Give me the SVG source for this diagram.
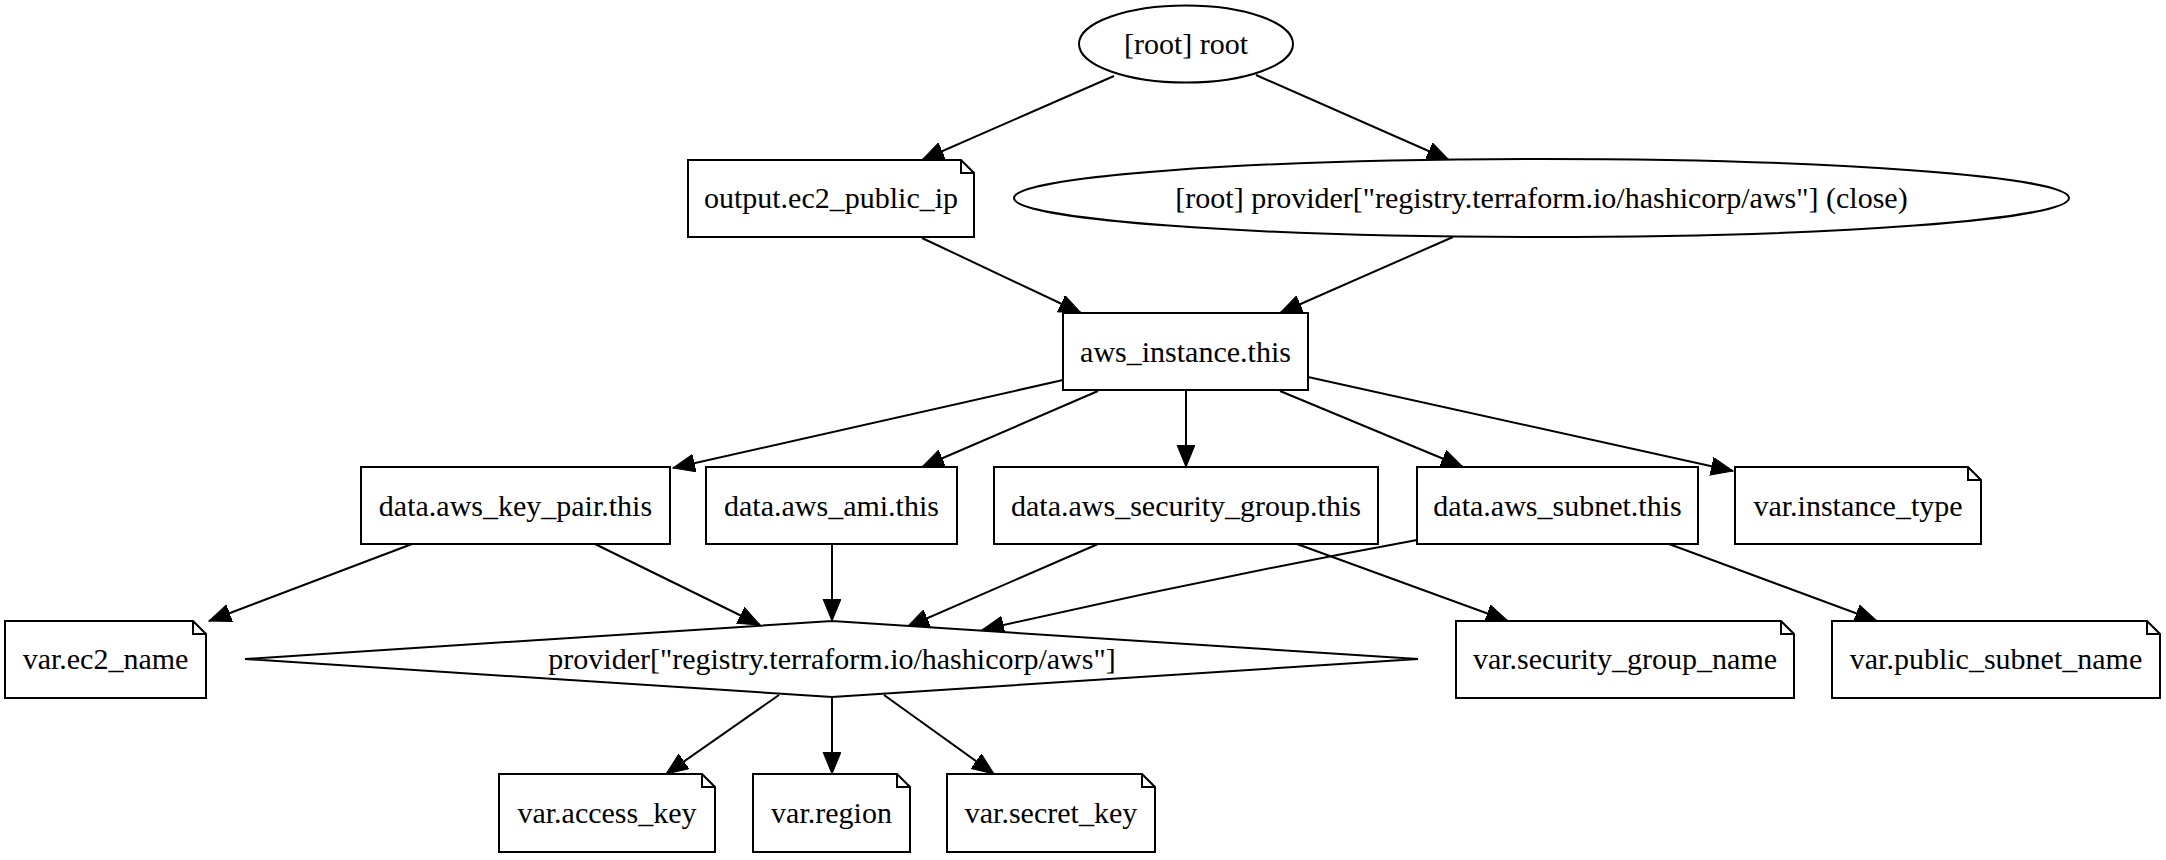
<svg xmlns="http://www.w3.org/2000/svg" width="2166" height="860" viewBox="0 0 2166 860">
<style>
.n{fill:#fff;stroke:#000;stroke-width:2}
.f{fill:none;stroke:#000;stroke-width:2}
.t{font-family:"Liberation Serif","Times New Roman",serif;font-size:30px;text-anchor:middle;fill:#000}
.e{fill:none;stroke:#000;stroke-width:2}
</style>
<defs>
<marker id="a" markerUnits="userSpaceOnUse" markerWidth="24" markerHeight="20" refX="22" refY="9" orient="auto">
<path d="M0,0 L22,9 L0,18 z" fill="#000" stroke="#000" stroke-width="1"/>
</marker>
</defs>
<rect width="2166" height="860" fill="#fff"/>
<g id="edges">
<path class="e" marker-end="url(#a)" d="M1114,76 L922,160"/>
<path class="e" marker-end="url(#a)" d="M1256,75 L1449,160"/>
<path class="e" marker-end="url(#a)" d="M922,238 L1081,313"/>
<path class="e" marker-end="url(#a)" d="M1453,237 L1280,313"/>
<path class="e" marker-end="url(#a)" d="M1063,380 L673,468"/>
<path class="e" marker-end="url(#a)" d="M1098,391 L922,467"/>
<path class="e" marker-end="url(#a)" d="M1186,390 L1186,467"/>
<path class="e" marker-end="url(#a)" d="M1280,391 L1463,467"/>
<path class="e" marker-end="url(#a)" d="M1308,377 L1733,471"/>
<path class="e" marker-end="url(#a)" d="M412,544 L209,621"/>
<path class="e" marker-end="url(#a)" d="M595,544 L760,625"/>
<path class="e" marker-end="url(#a)" d="M832,544 L832,621"/>
<path class="e" marker-end="url(#a)" d="M1098,544 L907,627"/>
<path class="e" marker-end="url(#a)" d="M1417,540 Q1200,580 982,630"/>
<path class="e" marker-end="url(#a)" d="M1297,544 L1508,621"/>
<path class="e" marker-end="url(#a)" d="M1669,544 L1877,621"/>
<path class="e" marker-end="url(#a)" d="M779,695 L666,774"/>
<path class="e" marker-end="url(#a)" d="M832,697 L832,774"/>
<path class="e" marker-end="url(#a)" d="M884,695 L994,774"/>
</g>
<g id="root">
<ellipse class="n" cx="1186" cy="44" rx="107" ry="38.5"/>
<text class="t" x="1186" y="54">[root] root</text>
</g>
<g id="provider_close">
<ellipse class="n" cx="1541.5" cy="198" rx="527.5" ry="39"/>
<text class="t" x="1541.5" y="208">[root] provider["registry.terraform.io/hashicorp/aws"] (close)</text>
</g>
<g id="output_ec2_public_ip">
<path class="n" d="M961,160 L974,173 L974,237 L688,237 L688,160 Z"/>
<path class="f" d="M961,160 L961,173 L974,173"/>
<text class="t" x="831" y="208">output.ec2_public_ip</text>
</g>
<g id="aws_instance_this">
<rect class="n" x="1063" y="313" width="245" height="77"/>
<text class="t" x="1185.5" y="362">aws_instance.this</text>
</g>
<g id="data_aws_key_pair_this">
<rect class="n" x="361" y="467" width="309" height="77"/>
<text class="t" x="515.5" y="516">data.aws_key_pair.this</text>
</g>
<g id="data_aws_ami_this">
<rect class="n" x="706" y="467" width="251" height="77"/>
<text class="t" x="831.5" y="516">data.aws_ami.this</text>
</g>
<g id="data_aws_security_group_this">
<rect class="n" x="994" y="467" width="384" height="77"/>
<text class="t" x="1186" y="516">data.aws_security_group.this</text>
</g>
<g id="data_aws_subnet_this">
<rect class="n" x="1417" y="467" width="281" height="77"/>
<text class="t" x="1557.5" y="516">data.aws_subnet.this</text>
</g>
<g id="var_instance_type">
<path class="n" d="M1968,467 L1981,480 L1981,544 L1735,544 L1735,467 Z"/>
<path class="f" d="M1968,467 L1968,480 L1981,480"/>
<text class="t" x="1858" y="516">var.instance_type</text>
</g>
<g id="var_ec2_name">
<path class="n" d="M193,621 L206,634 L206,698 L5,698 L5,621 Z"/>
<path class="f" d="M193,621 L193,634 L206,634"/>
<text class="t" x="105.5" y="669">var.ec2_name</text>
</g>
<g id="provider">
<path class="n" d="M245,659 L832,621 L1418,659 L832,697 Z"/>
<text class="t" x="832" y="669">provider["registry.terraform.io/hashicorp/aws"]</text>
</g>
<g id="var_security_group_name">
<path class="n" d="M1781,621 L1794,634 L1794,698 L1456,698 L1456,621 Z"/>
<path class="f" d="M1781,621 L1781,634 L1794,634"/>
<text class="t" x="1625" y="669">var.security_group_name</text>
</g>
<g id="var_public_subnet_name">
<path class="n" d="M2147,621 L2160,634 L2160,698 L1832,698 L1832,621 Z"/>
<path class="f" d="M2147,621 L2147,634 L2160,634"/>
<text class="t" x="1996" y="669">var.public_subnet_name</text>
</g>
<g id="var_access_key">
<path class="n" d="M702,774 L715,787 L715,852 L499,852 L499,774 Z"/>
<path class="f" d="M702,774 L702,787 L715,787"/>
<text class="t" x="607" y="823">var.access_key</text>
</g>
<g id="var_region">
<path class="n" d="M897,774 L910,787 L910,852 L753,852 L753,774 Z"/>
<path class="f" d="M897,774 L897,787 L910,787"/>
<text class="t" x="831.5" y="823">var.region</text>
</g>
<g id="var_secret_key">
<path class="n" d="M1142,774 L1155,787 L1155,852 L947,852 L947,774 Z"/>
<path class="f" d="M1142,774 L1142,787 L1155,787"/>
<text class="t" x="1051" y="823">var.secret_key</text>
</g>
</svg>
